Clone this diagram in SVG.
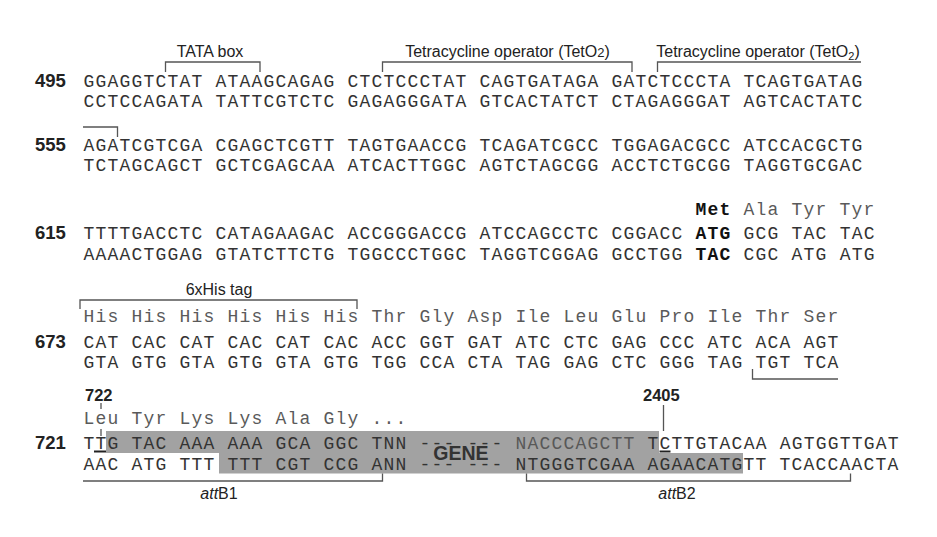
<svg xmlns="http://www.w3.org/2000/svg" width="937" height="537" viewBox="0 0 937 537">
<style>
.seq{font-family:"Liberation Mono","DejaVu Sans Mono",monospace;font-size:18px;letter-spacing:1.2px;fill:#333;white-space:pre}
.aa{font-family:"Liberation Mono","DejaVu Sans Mono",monospace;font-size:18px;letter-spacing:1.2px;fill:#5a5a5a;white-space:pre}
.num{font-family:"Liberation Sans",Arial,sans-serif;font-size:18.5px;font-weight:bold;fill:#222}
.pos{font-family:"Liberation Sans",Arial,sans-serif;font-size:16.5px;font-weight:bold;fill:#222}
.lbl{font-family:"Liberation Sans",Arial,sans-serif;font-size:16px;fill:#222;text-anchor:middle}
.br{fill:none;stroke:#555;stroke-width:1.3}
.ul{fill:none;stroke:#222;stroke-width:2}
.b{font-weight:bold;fill:#111}
</style>
<rect width="937" height="537" fill="#fff"/>
<g id="gene-shade">
<path d="M106,431 H659 V453 H743 V473.5 H219 V453 H106 Z" fill="#a2a2a2"/>
</g>
<g id="connectors">
<path class="br" d="M165.5,72 V62 H260 V72"/>
<path class="br" d="M382.5,72 V62 H632 V72"/>
<path class="br" d="M657.5,72 V62 H861"/>
<path class="br" d="M83,127 H117.5 V137"/>
<path class="br" d="M80,309 V300 H357 V309"/>
<path class="br" d="M752.5,369 V379 H838"/>
<path class="br" d="M83,481 H382.5 V473.5"/>
<path class="br" d="M526.5,473.5 V481 H850.5 V473.5"/>
<path class="br" d="M101,403 V409 M101,429 V436"/>
<path class="ul" d="M94,451.5 H106"/>
<path class="br" d="M663.5,405 V431"/>
<path class="ul" d="M659.5,451.5 H670.5"/>
</g>
<g id="labels">
<text class="lbl" x="210" y="57">TATA box</text>
<text class="lbl" x="507.5" y="57">Tetracycline operator (TetO<tspan font-size="13">2</tspan>)</text>
<text class="lbl" x="758" y="57">Tetracycline operator (TetO<tspan font-size="11" dy="3">2</tspan><tspan dy="-3">)</tspan></text>
<text class="lbl" x="219" y="295">6xHis tag</text>
<text class="lbl" x="219" y="499"><tspan font-style="italic">att</tspan>B1</text>
<text class="lbl" x="677" y="499"><tspan font-style="italic">att</tspan>B2</text>
<text class="pos" x="85" y="400.5">722</text>
<text class="pos" x="643" y="400.5">2405</text>
</g>
<g id="row-495">
<text class="num" x="35" y="86.5">495</text>
<text class="seq" x="83.5" y="86.5" xml:space="preserve">GGAGGTCTAT ATAAGCAGAG CTCTCCCTAT CAGTGATAGA GATCTCCCTA TCAGTGATAG</text>
<text class="seq" x="83.5" y="106.5" xml:space="preserve">CCTCCAGATA TATTCGTCTC GAGAGGGATA GTCACTATCT CTAGAGGGAT AGTCACTATC</text>
</g>
<g id="row-555">
<text class="num" x="35" y="151">555</text>
<text class="seq" x="83.5" y="151" xml:space="preserve">AGATCGTCGA CGAGCTCGTT TAGTGAACCG TCAGATCGCC TGGAGACGCC ATCCACGCTG</text>
<text class="seq" x="83.5" y="171" xml:space="preserve">TCTAGCAGCT GCTCGAGCAA ATCACTTGGC AGTCTAGCGG ACCTCTGCGG TAGGTGCGAC</text>
</g>
<g id="row-615">
<text class="aa" x="695.5" y="215" xml:space="preserve"><tspan class="b">Met</tspan> Ala Tyr Tyr</text>
<text class="num" x="35" y="239">615</text>
<text class="seq" x="83.5" y="239" xml:space="preserve">TTTTGACCTC CATAGAAGAC ACCGGGACCG ATCCAGCCTC CGGACC <tspan class="b">ATG</tspan> GCG TAC TAC</text>
<text class="seq" x="83.5" y="259.5" xml:space="preserve">AAAACTGGAG GTATCTTCTG TGGCCCTGGC TAGGTCGGAG GCCTGG <tspan class="b">TAC</tspan> CGC ATG ATG</text>
</g>
<g id="row-673">
<text class="aa" x="83.5" y="322" xml:space="preserve">His His His His His His Thr Gly Asp Ile Leu Glu Pro Ile Thr Ser</text>
<text class="num" x="35" y="347.5">673</text>
<text class="seq" x="83.5" y="347.5" xml:space="preserve">CAT CAC CAT CAC CAT CAC ACC GGT GAT ATC CTC GAG CCC ATC ACA AGT</text>
<text class="seq" x="83.5" y="367.5" xml:space="preserve">GTA GTG GTA GTG GTA GTG TGG CCA CTA TAG GAG CTC GGG TAG TGT TCA</text>
</g>
<g id="row-721">
<text class="aa" x="83.5" y="423.5" xml:space="preserve">Leu Tyr Lys Lys Ala Gly ...</text>
<text class="num" x="35" y="448.5">721</text>
<text class="seq" x="83.5" y="448.5" xml:space="preserve">TTG TAC AAA AAA GCA GGC TNN --- --- <tspan fill="#585858">NACCCAGCTT</tspan> TCTTGTACAA AGTGGTTGAT</text>
<text class="seq" x="83.5" y="470" xml:space="preserve">AAC ATG TTT TTT CGT CCG ANN --- --- NTGGGTCGAA AGAACATGTT TCACCAACTA</text>
<text x="461" y="460" text-anchor="middle" font-family="Liberation Sans, Arial, sans-serif" font-size="19.5" font-weight="bold" fill="#333">GENE</text>
</g>
</svg>
